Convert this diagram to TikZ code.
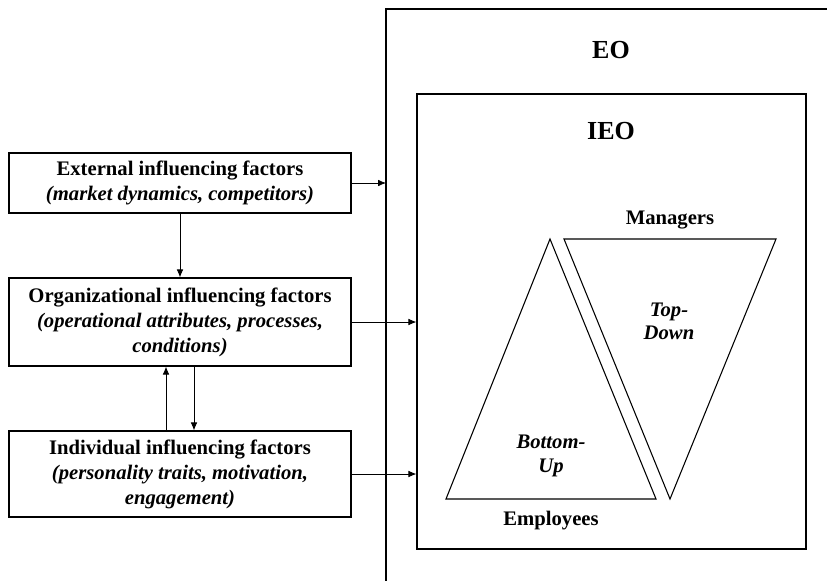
\documentclass[tikz,border=0pt]{standalone}
\usepackage{fontspec}
\setmainfont{Liberation Serif}
\usetikzlibrary{arrows.meta}

\tikzset{
  factorbox/.style={draw, line width=0.9pt, align=center, inner sep=0pt,
    minimum width=256.5pt, font=\fontsize{15.5}{18.75}\selectfont\bfseries},
  biglabel/.style={inner sep=0pt, font=\fontsize{19.5}{22}\selectfont\bfseries},
  smalllabel/.style={inner sep=0pt, align=center, font=\fontsize{15.5}{18.75}\selectfont\bfseries},
  flow/.style={-{Latex[length=6pt,width=5pt]}, line width=0.6pt},
}

\begin{document}
\begin{tikzpicture}[x=0.75pt,y=0.75pt,yscale=-1,xscale=1]
\useasboundingbox (0,0) rectangle (827,581);

%Shape: Rectangle [outer EO frame, cut by the page]
\draw[line width=0.9pt] (386,590) -- (386,9) -- (840,9);
\coordinate (eoleft) at (386,183);
\node[biglabel] (eotitle) at (611,50) {EO};

%Shape: Rectangle [IEO]
\node[draw, line width=0.9pt, minimum width=291.75pt, minimum height=341.25pt] (ieo) at (611.5,321.5) {};
\node[biglabel] (ieotitle) at (611,131) {IEO};

%Shape: Triangle [bottom-up]
\draw[line width=0.8pt] (550,239) -- (446,499) -- (656,499) -- cycle;
%Shape: Triangle [top-down]
\draw[line width=0.8pt] (564,239) -- (776,239) -- (670,499) -- cycle;

% Text Node
\node[smalllabel] (managers) at (670,220) {Managers};
\node[smalllabel] (employees) at (551,521) {Employees};
\node[smalllabel, font=\fontsize{15.5}{17}\selectfont\bfseries\itshape] (topdown) at (669,321) {Top-\\Down};
\node[smalllabel, font=\fontsize{15.5}{17.5}\selectfont\bfseries\itshape] (bottomup) at (551,456) {Bottom-\\Up};

%Shape: Rectangle [factor boxes]
\node[factorbox, minimum height=45pt] (ext) at (180,183)
  {External influencing factors\\ \itshape (market dynamics, competitors)};
\node[factorbox, minimum height=66pt] (org) at (180,322)
  {Organizational influencing factors\\ \itshape (operational attributes, processes,\\ \itshape conditions)};
\node[factorbox, minimum height=64.5pt] (ind) at (180,474)
  {Individual influencing factors\\ \itshape (personality traits, motivation,\\ \itshape engagement)};

%Straight Lines
\draw[flow] (ext) -- (org);
\draw[flow] ([xshift=-10.5pt]ind.north) -- ([xshift=-10.5pt]org.south);
\draw[flow] ([xshift=10.5pt]org.south) -- ([xshift=10.5pt]ind.north);
\draw[flow] (ext.east) -- (ext.east -| eoleft);
\draw[flow] (org.east) -- (org.east -| ieo.west);
\draw[flow] (ind.east) -- (ind.east -| ieo.west);
\end{tikzpicture}
\end{document}
